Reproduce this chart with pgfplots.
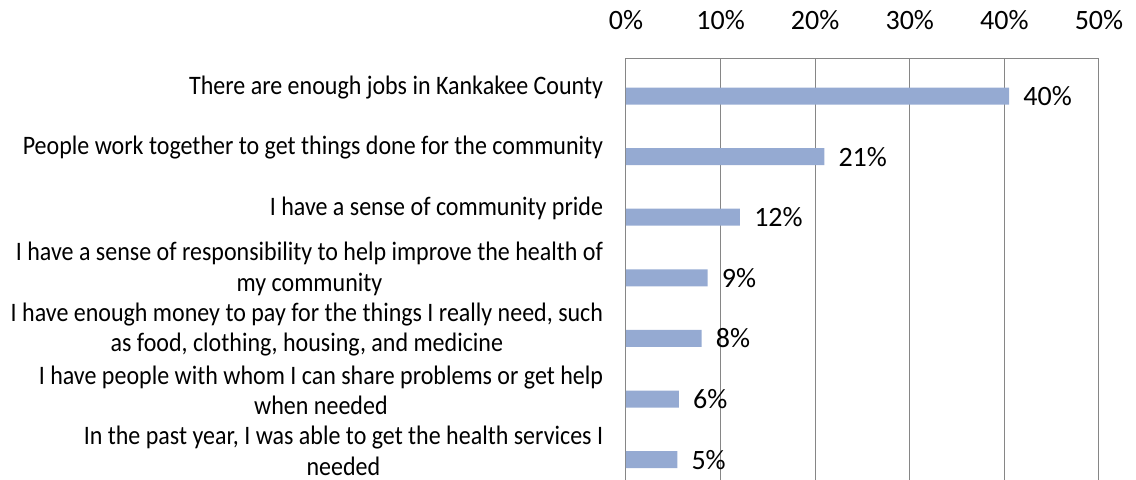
\documentclass[border=0pt]{standalone}
\usepackage{pgfplots}
\pgfplotsset{compat=1.18}
\usepackage{fontspec}
\setmainfont{Carlito}
\newfontfamily\catfont[FakeStretch=0.9]{Carlito}
\definecolor{barblue}{RGB}{149,170,210}
\definecolor{gridgray}{RGB}{134,134,134}
\begin{document}
\begin{tikzpicture}
\useasboundingbox (0,0) rectangle (852pt,-359.25pt);
\begin{axis}[
  at={(469.5pt,-43.5pt)}, anchor=north west,
  scale only axis, width=354.75pt, height=326.2pt,
  xbar, bar width=12.75pt,
  xmin=0, xmax=50, ymin=-0.627, ymax=6.55,
  y dir=reverse,
  /pgf/number format/assume math mode=true,
  xtick={0,10,20,30,40,50},
  xticklabel={\pgfmathprintnumber{\tick}\%},
  xticklabel pos=upper,
  xmajorgrids, grid style={gridgray, line width=0.75pt},
  axis line style={gridgray, line width=0.75pt},
  major tick length=0pt,
  ytick={0,1,2,3,4,5,6},
  yticklabels={
    There are enough jobs in Kankakee County,
    People work together to get things done for the community,
    I have a sense of community pride,
    I have a sense of responsibility to help improve the health of\\my community,
    {I have enough money to pay for the things I really need, such\\as food, clothing, housing, and medicine},
    I have people with whom I can share problems or get help\\when needed,
    {In the past year, I was able to get the health services I\\needed}
  },
  yticklabel style={align=center, font=\catfont\fontsize{20}{22.9}\selectfont, inner sep=0pt, anchor=east, xshift=-17pt, yshift=6.6pt},
  xticklabel style={font=\fontsize{21}{25}\selectfont, inner sep=0pt, anchor=base, yshift=21.75pt},
  nodes near coords={\pgfplotspointmeta\%},
  point meta=explicit symbolic,
  every node near coord/.append style={anchor=west, font=\fontsize{21}{25}\selectfont, inner sep=0pt, xshift=10.5pt, text=black},
]
\addplot[fill=barblue, draw=none] table[x=x, y=y, meta=lbl] {
x y lbl
40.5 0 40
20.96 1 21
12.05 2 12
8.64 3 9
8.0 4 8
5.6 5 6
5.42 6 5
};
\end{axis}
\end{tikzpicture}
\end{document}
